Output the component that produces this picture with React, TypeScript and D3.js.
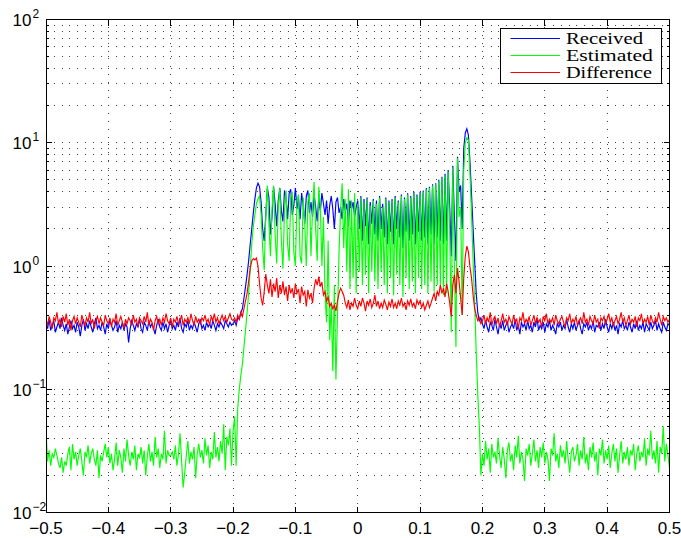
import React from 'react';
import * as d3 from 'd3';

// Frequency grid (normalized), uniform sampling
const FREQ_START = -0.5;
const FREQ_STEP = 0.0025;

const received: number[] = [
  0.34,0.31,0.37,0.30,0.33,0.36,0.29,0.32,0.35,0.31,
  0.38,0.33,0.30,0.34,0.28,0.32,0.36,0.31,0.33,0.29,
  0.35,0.32,0.27,0.33,0.37,0.30,0.34,0.31,0.36,0.32,
  0.29,0.34,0.38,0.31,0.33,0.30,0.35,0.32,0.28,0.34,
  0.31,0.37,0.33,0.30,0.32,0.36,0.29,0.33,0.31,0.35,
  0.30,0.34,0.32,0.24,0.31,0.36,0.33,0.30,0.34,0.32,
  0.37,0.31,0.29,0.35,0.33,0.30,0.36,0.32,0.34,0.31,
  0.28,0.33,0.37,0.32,0.30,0.35,0.31,0.34,0.29,0.33,
  0.36,0.31,0.33,0.30,0.35,0.32,0.38,0.31,0.29,0.34,
  0.32,0.36,0.30,0.33,0.31,0.35,0.32,0.29,0.34,0.37,
  0.31,0.33,0.30,0.35,0.32,0.34,0.31,0.36,0.33,0.30,
  0.34,0.32,0.35,0.33,0.31,0.36,0.34,0.32,0.35,0.33,
  0.34,0.36,0.33,0.38,0.37,0.42,0.45,0.55,0.68,0.85,
  1.1,1.5,2.0,2.7,3.5,4.3,4.7,4.4,3.3,2.0,
  1.6,2.6,4.3,3.6,1.8,2.5,4.4,3.2,2.1,3.4,
  4.3,2.8,2.3,4.1,3.6,2.4,3.9,4.2,2.6,3.1,
  4.3,2.9,3.6,2.4,3.9,3.1,2.2,3.7,4.1,2.7,
  3.3,2.5,3.8,3.0,2.3,3.6,2.8,3.9,3.2,2.6,
  3.4,2.2,3.1,3.7,2.9,2.0,3.3,3.6,2.7,3.0,
  2.4,3.5,2.8,3.2,2.1,3.4,2.9,3.3,2.5,3.0,
  3.4,2.0,3.7,1.6,3.5,2.1,3.6,1.5,3.3,2.2,
  3.5,1.8,3.4,1.6,3.7,2.0,3.2,1.7,3.6,1.5,
  3.4,1.9,3.5,1.5,3.7,2.0,3.4,1.7,3.8,1.4,
  3.6,1.9,3.9,1.6,3.7,1.8,4.0,1.5,3.8,1.9,
  4.0,1.6,4.1,1.7,4.3,1.5,4.4,1.8,4.6,1.5,
  4.7,1.7,5.0,1.6,5.3,1.5,5.6,1.6,6.0,3.0,
  1.2,6.5,2.5,1.1,7.7,4.0,4.5,2.0,9.0,12.0,
  13.0,11.5,7.0,3.8,2.0,1.1,0.6,0.42,0.36,0.38,
  0.34,0.31,0.36,0.32,0.29,0.35,0.33,0.30,0.37,0.32,
  0.28,0.34,0.31,0.36,0.30,0.33,0.35,0.29,0.32,0.34,
  0.31,0.37,0.30,0.33,0.28,0.35,0.32,0.34,0.30,0.36,
  0.31,0.33,0.29,0.35,0.32,0.38,0.30,0.33,0.31,0.35,
  0.29,0.34,0.32,0.36,0.30,0.33,0.31,0.28,0.34,0.32,
  0.35,0.30,0.33,0.31,0.37,0.32,0.29,0.34,0.31,0.35,
  0.30,0.33,0.36,0.31,0.28,0.34,0.32,0.35,0.30,0.33,
  0.31,0.36,0.29,0.33,0.32,0.35,0.30,0.34,0.31,0.37,
  0.32,0.29,0.34,0.31,0.35,0.30,0.33,0.28,0.34,0.32,
  0.36,0.31,0.33,0.30,0.35,0.32,0.29,0.34,0.31,0.36,
  0.30,0.33,0.31,0.35,0.29,0.34,0.32,0.30,0.35,0.31,
  0.33,0.36,0.30,0.34,0.31,0.29,0.35,0.32,0.30,0.34,
  0.33,
];

const estimated: number[] = [
  0.047,0.026,0.032,0.024,0.030,0.028,0.033,0.029,0.025,0.023,
  0.028,0.021,0.026,0.024,0.030,0.034,0.022,0.036,0.027,0.031,
  0.024,0.029,0.033,0.026,0.020,0.031,0.028,0.035,0.025,0.030,
  0.033,0.027,0.024,0.032,0.019,0.029,0.026,0.031,0.036,0.028,
  0.034,0.025,0.030,0.022,0.027,0.037,0.024,0.032,0.028,0.021,
  0.033,0.026,0.039,0.029,0.024,0.031,0.027,0.035,0.022,0.030,
  0.028,0.034,0.025,0.032,0.020,0.029,0.036,0.026,0.031,0.024,
  0.041,0.028,0.033,0.023,0.030,0.027,0.046,0.025,0.032,0.029,
  0.029,0.031,0.027,0.035,0.024,0.030,0.044,0.026,0.016,0.021,
  0.029,0.038,0.025,0.031,0.027,0.034,0.019,0.030,0.036,0.028,
  0.032,0.025,0.040,0.029,0.035,0.023,0.031,0.027,0.045,0.028,
  0.034,0.026,0.038,0.030,0.052,0.022,0.041,0.035,0.048,0.024,
  0.045,0.06,0.024,0.07,0.1,0.13,0.16,0.22,0.3,0.42,
  0.6,0.95,1.5,2.1,2.6,3.2,3.5,3.7,2.6,1.4,
  0.93,2.5,4.5,2.2,1.2,2.9,4.5,1.8,1.05,3.0,
  4.3,1.6,0.95,2.8,4.1,1.5,1.1,3.7,3.9,1.3,
  1.0,3.4,3.8,1.2,1.05,3.6,2.2,1.0,3.3,3.9,
  1.2,2.9,4.8,2.0,1.1,4.4,3.0,1.0,2.5,0.6,
  0.35,1.6,0.25,0.5,0.14,0.7,0.12,0.4,1.3,2.8,
  4.7,1.4,3.5,0.9,4.2,0.65,3.4,0.8,3.9,0.6,
  3.2,0.9,3.6,0.7,3.3,0.85,3.5,0.6,3.1,0.9,
  3.4,0.75,3.2,0.65,3.6,0.9,3.0,0.7,3.5,0.6,
  3.3,0.8,3.4,0.58,3.6,0.85,3.3,0.7,3.7,0.56,
  3.5,0.8,3.8,0.65,3.6,0.75,3.9,0.6,3.7,0.8,
  3.9,0.65,4.0,0.7,4.2,0.6,4.3,0.75,4.5,0.62,
  4.6,0.7,4.9,0.66,5.2,0.58,5.4,0.6,5.8,2.0,
  0.29,6.3,1.0,0.22,7.5,2.5,3.0,0.4,6.0,10.0,
  11.0,10.5,5.5,2.6,1.1,0.5,0.2,0.09,0.05,0.02,
  0.030,0.024,0.038,0.027,0.033,0.021,0.036,0.028,0.031,0.025,
  0.040,0.029,0.023,0.034,0.027,0.019,0.032,0.037,0.026,0.030,
  0.022,0.035,0.028,0.042,0.025,0.031,0.027,0.018,0.033,0.029,
  0.036,0.024,0.030,0.039,0.026,0.032,0.023,0.034,0.028,0.037,
  0.025,0.031,0.027,0.018,0.033,0.029,0.044,0.026,0.030,0.023,
  0.035,0.028,0.032,0.025,0.038,0.027,0.021,0.031,0.034,0.026,
  0.029,0.036,0.024,0.032,0.027,0.041,0.025,0.030,0.022,0.034,
  0.028,0.037,0.026,0.031,0.020,0.033,0.029,0.039,0.025,0.032,
  0.027,0.035,0.023,0.030,0.036,0.026,0.033,0.021,0.029,0.038,
  0.025,0.031,0.027,0.034,0.024,0.032,0.029,0.036,0.022,0.030,
  0.035,0.026,0.031,0.028,0.040,0.024,0.033,0.029,0.046,0.027,
  0.032,0.025,0.038,0.021,0.034,0.030,0.050,0.026,0.036,0.029,
  0.023,
];

const difference: number[] = [
  0.37,0.33,0.39,0.35,0.31,0.38,0.36,0.42,0.34,0.37,
  0.32,0.39,0.35,0.41,0.33,0.37,0.30,0.36,0.39,0.34,
  0.38,0.35,0.32,0.40,0.36,0.33,0.38,0.35,0.42,0.34,
  0.37,0.31,0.36,0.39,0.34,0.38,0.35,0.33,0.40,0.36,
  0.34,0.38,0.32,0.37,0.35,0.41,0.33,0.36,0.39,0.35,
  0.31,0.37,0.34,0.38,0.36,0.33,0.40,0.35,0.37,0.32,
  0.38,0.36,0.34,0.39,0.35,0.42,0.33,0.37,0.35,0.30,
  0.36,0.39,0.34,0.37,0.33,0.38,0.35,0.41,0.36,0.34,
  0.38,0.32,0.37,0.35,0.39,0.34,0.36,0.40,0.33,0.37,
  0.35,0.38,0.34,0.41,0.36,0.33,0.39,0.35,0.37,0.34,
  0.38,0.36,0.40,0.35,0.37,0.33,0.39,0.36,0.41,0.35,
  0.38,0.34,0.37,0.40,0.36,0.39,0.35,0.38,0.41,0.37,
  0.36,0.38,0.35,0.40,0.37,0.42,0.39,0.45,0.52,0.6,
  0.75,0.95,1.1,1.15,1.12,1.16,1.0,0.72,0.55,0.48,
  0.62,0.86,0.7,0.6,0.78,0.56,0.72,0.62,0.8,0.55,
  0.7,0.6,0.75,0.58,0.68,0.52,0.7,0.6,0.66,0.55,
  0.72,0.6,0.65,0.5,0.68,0.58,0.62,0.47,0.64,0.55,
  0.6,0.5,0.66,0.78,0.7,0.82,0.68,0.74,0.58,0.62,
  0.52,0.56,0.47,0.5,0.45,0.48,0.43,0.52,0.6,0.66,
  0.62,0.58,0.5,0.46,0.53,0.44,0.5,0.47,0.55,0.48,
  0.45,0.52,0.47,0.55,0.5,0.43,0.52,0.48,0.54,0.46,
  0.5,0.58,0.47,0.52,0.45,0.5,0.46,0.53,0.49,0.44,
  0.51,0.47,0.54,0.46,0.5,0.45,0.52,0.48,0.55,0.47,
  0.5,0.44,0.52,0.48,0.54,0.47,0.5,0.45,0.53,0.49,
  0.52,0.46,0.5,0.44,0.48,0.52,0.46,0.5,0.55,0.6,
  0.52,0.62,0.58,0.7,0.6,0.66,0.56,0.72,0.62,0.5,
  0.39,0.7,0.85,0.6,0.96,0.75,0.55,0.4,0.8,1.2,
  1.45,1.3,0.98,0.8,0.58,0.45,0.4,0.36,0.38,0.34,
  0.36,0.40,0.34,0.38,0.35,0.42,0.33,0.37,0.39,0.34,
  0.38,0.32,0.36,0.41,0.35,0.37,0.33,0.39,0.36,0.34,
  0.40,0.35,0.37,0.31,0.38,0.36,0.42,0.34,0.37,0.35,
  0.39,0.33,0.36,0.40,0.34,0.38,0.35,0.37,0.32,0.39,
  0.36,0.41,0.34,0.37,0.35,0.38,0.33,0.40,0.36,0.34,
  0.37,0.39,0.35,0.32,0.38,0.36,0.41,0.34,0.37,0.35,
  0.39,0.33,0.36,0.38,0.34,0.42,0.35,0.37,0.33,0.39,
  0.36,0.34,0.40,0.35,0.37,0.31,0.38,0.36,0.39,0.34,
  0.37,0.41,0.35,0.38,0.33,0.36,0.39,0.34,0.37,0.42,
  0.35,0.38,0.33,0.36,0.40,0.34,0.37,0.35,0.39,0.32,
  0.38,0.36,0.41,0.34,0.37,0.35,0.39,0.33,0.40,0.36,
  0.34,0.38,0.35,0.42,0.37,0.33,0.39,0.36,0.38,0.35,
  0.37,
];

const xTickValues = [-0.5, -0.4, -0.3, -0.2, -0.1, 0, 0.1, 0.2, 0.3, 0.4, 0.5];
const xTickLabels = ['\u22120.5', '\u22120.4', '\u22120.3', '\u22120.2', '\u22120.1', '0', '0.1', '0.2', '0.3', '0.4', '0.5'];
const yDecadeExponents = [-2, -1, 0, 1, 2];
const seriesNames = ['Received', 'Estimated', 'Difference'];
const seriesColors = ['#0000ff', '#00ff00', '#ff0000'];
const legendTextWidths = [77, 87, 86];

export default function App() {
  const W = 681, H = 538;
  const L = 46, R = 669.5, T = 19.5, B = 512.5;
  const x = d3.scaleLinear().domain([-0.5, 0.5]).range([L, R]);
  const y = d3.scaleLog().domain([0.01, 100]).range([B, T]);
  const seriesData = [received, estimated, difference];
  const freq = received.map((_, i) => FREQ_START + i * FREQ_STEP);
  const lineGen = d3.line<number>().x((_, i) => x(freq[i])).y((v) => y(v));

  const snap = (v: number) => Math.round(v - 0.5) + 0.5;

  const yGrid: number[] = [];
  for (let k = -2; k < 2; k++) {
    for (let m = 1; m <= 9; m++) {
      const v = m * Math.pow(10, k);
      if (v > 0.01 && v < 100) yGrid.push(v);
    }
  }
  const yMinor = yGrid.filter((v) => Math.abs(Math.log10(v) - Math.round(Math.log10(v))) > 1e-6);

  const gridStroke = '#444';
  const dash = '1 6.8';

  return (
    <svg width={W} height={H} style={{ position: 'absolute', left: 0, top: 0, background: '#fff' }}
      fontFamily="'Liberation Sans', Arial, sans-serif">
      <rect x={0} y={0} width={W} height={H} fill="#fff" />
      <defs>
        <clipPath id="plotclip">
          <rect x={L} y={T} width={R - L} height={B - T} />
        </clipPath>
      </defs>
      <g shapeRendering="crispEdges">
        {yGrid.map((v, i) => (
          <line key={'gy' + i} x1={L} x2={R} y1={snap(y(v))} y2={snap(y(v))}
            stroke={gridStroke} strokeWidth={1} strokeDasharray={dash} />
        ))}
        {xTickValues.slice(1, -1).map((v, i) => (
          <line key={'gx' + i} x1={snap(x(v))} x2={snap(x(v))} y1={T} y2={B}
            stroke={gridStroke} strokeWidth={1} strokeDasharray={dash} />
        ))}
      </g>
      <g clipPath="url(#plotclip)">
        {seriesData.map((vals, si) => (
          <path key={'s' + si} d={lineGen(vals) || ''} fill="none" stroke={seriesColors[si]} strokeWidth={1.15} />
        ))}
      </g>
      <g shapeRendering="crispEdges" stroke="#000" strokeWidth={1}>
        <rect x={L} y={T} width={R - L} height={B - T} fill="none" />
        {xTickValues.map((v, i) => (
          <g key={'xt' + i}>
            <line x1={snap(x(v))} x2={snap(x(v))} y1={B} y2={B - 6} />
            <line x1={snap(x(v))} x2={snap(x(v))} y1={T} y2={T + 6} />
          </g>
        ))}
        {yDecadeExponents.map((e, i) => (
          <g key={'yt' + i}>
            <line x1={L} x2={L + 6} y1={snap(y(Math.pow(10, e)))} y2={snap(y(Math.pow(10, e)))} />
            <line x1={R} x2={R - 6} y1={snap(y(Math.pow(10, e)))} y2={snap(y(Math.pow(10, e)))} />
          </g>
        ))}
        {yMinor.map((v, i) => (
          <g key={'ym' + i}>
            <line x1={L} x2={L + 3} y1={snap(y(v))} y2={snap(y(v))} />
            <line x1={R} x2={R - 3} y1={snap(y(v))} y2={snap(y(v))} />
          </g>
        ))}
      </g>
      <g fontSize={17} fill="#000" textAnchor="middle">
        {xTickValues.map((v, i) => (
          <text key={'xl' + i} x={x(v)} y={534}>{xTickLabels[i]}</text>
        ))}
      </g>
      <g fill="#000">
        {yDecadeExponents.map((e, i) => {
          const yy = y(Math.pow(10, e));
          return (
            <g key={'yl' + i}>
              <text x={31.5} y={yy + 6.5} fontSize={17} textAnchor="end">10</text>
              <text x={32.5} y={yy - 1.5} fontSize={12} textAnchor="start">{e < 0 ? '\u2212' + Math.abs(e) : String(e)}</text>
            </g>
          );
        })}
      </g>
      <g>
        <rect x={500.5} y={28.5} width={161} height={55} fill="#fff" stroke="#000" strokeWidth={1} shapeRendering="crispEdges" />
        {seriesNames.map((name, i) => {
          const ly = 38.5 + i * 17;
          return (
            <g key={'lg' + i}>
              <line x1={510.5} x2={560} y1={ly} y2={ly} stroke={seriesColors[i]} strokeWidth={1.2} />
              <text x={566} y={ly + 5.5} fontSize={16} textLength={legendTextWidths[i]} lengthAdjust="spacingAndGlyphs"
                fontFamily="'Liberation Serif', 'Times New Roman', serif" fill="#000">{name}</text>
            </g>
          );
        })}
      </g>
    </svg>
  );
}
